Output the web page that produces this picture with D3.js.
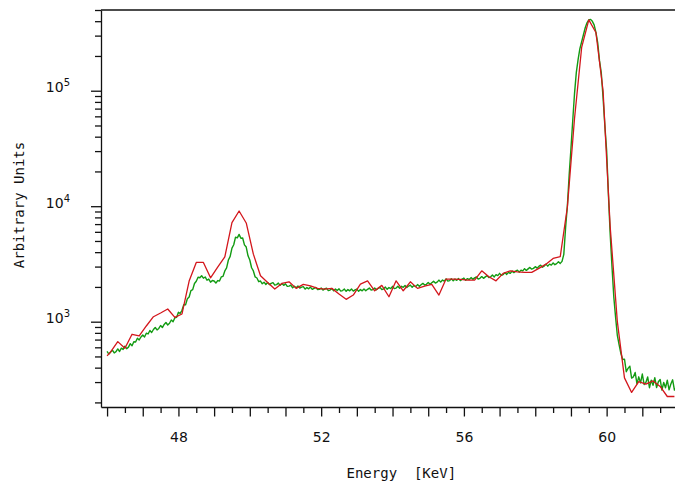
<!DOCTYPE html>
<html>
<head>
<meta charset="utf-8">
<script src="https://cdn.jsdelivr.net/npm/d3@7"></script>
<style>
  html, body { margin: 0; padding: 0; background: #fff; }
  svg { display: block; }
</style>
</head>
<body>
<svg id="chart" width="675" height="487"></svg>
<script>
// Coarse spectrum (red): energy in keV and counts
const redEnergy = [46.0,
  46.1, 46.3, 46.5, 46.7, 46.9, 47.1, 47.3, 47.5, 47.7, 47.9,
  48.1, 48.3, 48.5, 48.7, 48.9, 49.1, 49.3, 49.5, 49.7, 49.9,
  50.1, 50.3, 50.5, 50.7, 50.9, 51.1, 51.3, 51.5, 51.7, 51.9,
  52.1, 52.3, 52.5, 52.7, 52.9, 53.1, 53.3, 53.5, 53.7, 53.9,
  54.1, 54.3, 54.5, 54.7, 54.9, 55.1, 55.3, 55.5, 55.7, 55.9,
  56.1, 56.3, 56.5, 56.7, 56.9, 57.1, 57.3, 57.5, 57.7, 57.9,
  58.1, 58.3, 58.5, 58.7, 58.9, 59.1, 59.3, 59.5, 59.7, 59.9,
  60.1, 60.3, 60.5, 60.7, 60.9, 61.1, 61.3, 61.5, 61.7, 61.9];
const redCounts = [506,
  547, 672, 589, 778, 752, 918, 1104, 1189, 1287, 1091,
  1166, 2246, 3258, 3258, 2399, 2968, 3641, 7220, 9090, 7160,
  3843, 2496, 2185, 1916, 2146, 2215, 1943, 2104, 2046, 1943,
  1916, 1943, 1735, 1561, 1701, 2116, 2259, 1852, 2062, 1644,
  2259, 1852, 2215, 1943, 2034, 2104, 1701, 2338, 2338, 2324,
  2292, 2292, 2757, 2447, 2259, 2618, 2757, 2703, 2671, 2671,
  2892, 3150, 3528, 3656, 9840, 57400, 237000, 411000, 319000, 100000,
  6610, 1000, 326, 244, 303, 288, 307, 275, 225, 225];

// Fine spectrum (green): 0.05 keV channels from 46.00 to 62.00 keV
const greenFirst = 46.0;
const greenChannel = 0.05;
const greenCounts = [
  553, 524, 547, 567, 536, 550, 581, 552, 590, 575,
  614, 584, 602, 645, 620, 671, 667, 719, 695, 737,
  767, 737, 795, 783, 839, 806, 856, 891, 848, 874,
  927, 890, 946, 984, 936, 969, 1034, 999, 1082, 1092,
  1207, 1181, 1256, 1401, 1399, 1578, 1634, 1859, 1895, 2141,
  2240, 2430, 2400, 2500, 2380, 2440, 2285, 2340, 2200, 2275,
  2250, 2160, 2270, 2250, 2440, 2470, 2750, 2920, 3420, 3680,
  4340, 4640, 5400, 5320, 5700, 5280, 5300, 4630, 4430, 3720,
  3420, 2930, 2750, 2440, 2390, 2220, 2250, 2130, 2200, 2100,
  2181, 2095, 2149, 2180, 2074, 2095, 2158, 2063, 2137, 2064,
  2127, 2023, 2033, 2075, 1964, 2024, 1964, 2034, 1954, 1994,
  2013, 1915, 1974, 1925, 1993, 1905, 1945, 1983, 1896, 1906,
  1954, 1878, 1926, 1954, 1859, 1878, 1935, 1850, 1916, 1859,
  1925, 1840, 1859, 1916, 1831, 1897, 1850, 1916, 1840, 1887,
  1916, 1831, 1897, 1850, 1916, 1850, 1906, 1954, 1878, 1897,
  1954, 1887, 1945, 1983, 1896, 1925, 1993, 1905, 1974, 1935,
  2023, 1935, 1954, 2024, 1944, 2024, 1984, 2054, 1974, 2034,
  2075, 1983, 2054, 2013, 2095, 2023, 2085, 2147, 2074, 2106,
  2181, 2105, 2170, 2235, 2158, 2202, 2291, 2202, 2292, 2246,
  2349, 2246, 2269, 2349, 2257, 2338, 2280, 2361, 2269, 2338,
  2385, 2280, 2361, 2315, 2408, 2326, 2397, 2445, 2337, 2372,
  2456, 2372, 2444, 2505, 2408, 2444, 2531, 2443, 2556, 2506,
  2621, 2519, 2556, 2660, 2568, 2674, 2621, 2742, 2660, 2742,
  2796, 2686, 2796, 2754, 2880, 2781, 2866, 2952, 2851, 2895,
  2997, 2909, 3012, 3087, 2966, 3027, 3150, 3026, 3150, 3088,
  3229, 3116, 3181, 3310, 3196, 3330, 3830, 6500, 10100, 18600,
  31600, 55200, 94400, 143300, 185600, 231000, 265500, 305100, 351000, 387000,
  411000, 415000, 399000, 372000, 320000, 260000, 182000, 143000, 87100, 49950,
  30400, 12600, 5700, 3000, 1650, 1100, 760, 630, 530, 470,
  474, 369, 394, 412, 325, 333, 363, 290, 333, 295,
  352, 286, 298, 332, 268, 312, 281, 327, 269, 302,
  316, 256, 298, 268, 312, 257, 289, 314, 256, 269,
  290];

// Axis ranges and ticks
const energyRange = [45.83, 62.0];
const countRange = [182.5, 5e5];
const xMajorTicks = [46, 47, 48, 49, 50, 51, 52, 53, 54, 55, 56, 57, 58, 59, 60, 61];
const xMinorTicks = [46.5, 47.5, 48.5, 49.5, 50.5, 51.5, 52.5, 53.5, 54.5, 55.5, 56.5, 57.5, 58.5, 59.5, 60.5, 61.5];
const xLabelTicks = [48, 52, 56, 60];
const yMajorTicks = [1e3, 1e4, 1e5];
const yMinorTicks = [200, 300, 400, 500, 600, 700, 800, 900,
  2000, 3000, 4000, 5000, 6000, 7000, 8000, 9000,
  20000, 30000, 40000, 50000, 60000, 70000, 80000, 90000,
  200000, 300000, 400000, 500000];

const plot = { left: 101, right: 678, top: 10, bottom: 407 };
const ink = "#111";

const svg = d3.select("#chart");

const x = d3.scaleLinear().domain(energyRange).range([plot.left, plot.right]);
const y = d3.scaleLog().domain(countRange).range([plot.bottom, plot.top]);

// Spectra
const greenData = greenCounts.map((c, i) => [greenFirst + i * greenChannel, c]);
const redData = redEnergy.map((e, i) => [e, redCounts[i]]);

const line = d3.line().x(d => x(d[0])).y(d => y(d[1]));

svg.append("path")
  .datum(greenData)
  .attr("d", line)
  .attr("fill", "none")
  .attr("stroke", "#129b12")
  .attr("stroke-width", 1.4)
  .attr("stroke-linejoin", "round");

svg.append("path")
  .datum(redData)
  .attr("d", line)
  .attr("fill", "none")
  .attr("stroke", "#d3161c")
  .attr("stroke-width", 1.3)
  .attr("stroke-linejoin", "round");

// Top frame line
svg.append("line")
  .attr("x1", plot.left).attr("x2", plot.right)
  .attr("y1", plot.top).attr("y2", plot.top)
  .attr("stroke", ink).attr("stroke-width", 1.3);

function styleAxis(g) {
  g.selectAll("path, line").attr("stroke", ink).attr("stroke-width", 1.3);
  g.selectAll("text").attr("fill", ink);
}

// Bottom axis: integer ticks, half-keV minor ticks
const xMajorAxis = d3.axisBottom(x)
  .tickValues(xMajorTicks)
  .tickSize(9.5)
  .tickSizeOuter(0)
  .tickFormat(d => xLabelTicks.includes(d) ? String(d) : "");
const xAxisG = svg.append("g")
  .attr("transform", `translate(0,${plot.bottom})`)
  .call(xMajorAxis);
xAxisG.selectAll(".tick text")
  .attr("y", 35).attr("dy", null)
  .attr("font-family", "DejaVu Sans, sans-serif")
  .attr("font-size", 14);
styleAxis(xAxisG);

const xMinorG = svg.append("g")
  .attr("transform", `translate(0,${plot.bottom})`)
  .call(d3.axisBottom(x).tickValues(xMinorTicks).tickSize(6).tickFormat(""));
xMinorG.select(".domain").remove();
styleAxis(xMinorG);

// Left axis: decades with powers-of-ten labels, minor ticks in between
const yAxisG = svg.append("g")
  .attr("transform", `translate(${plot.left},0)`)
  .call(d3.axisLeft(y).tickValues(yMajorTicks).tickSize(10).tickSizeOuter(0));
yAxisG.selectAll(".tick text").each(function(d) {
  const t = d3.select(this)
    .text(null)
    .attr("x", -31).attr("y", 1).attr("dy", null)
    .attr("text-anchor", "end")
    .attr("font-family", "DejaVu Sans, sans-serif")
    .attr("font-size", 14);
  t.append("tspan").text("10");
  t.append("tspan").attr("font-size", 10).attr("dy", -6).text(Math.round(Math.log10(d)));
});
styleAxis(yAxisG);

const yMinorG = svg.append("g")
  .attr("transform", `translate(${plot.left},0)`)
  .call(d3.axisLeft(y).tickValues(yMinorTicks).tickSize(6).tickFormat(""));
yMinorG.select(".domain").remove();
styleAxis(yMinorG);

// Axis titles
svg.append("text")
  .attr("x", 346.5).attr("y", 478)
  .attr("font-family", "DejaVu Sans Mono, monospace")
  .attr("font-size", 14)
  .attr("fill", ink)
  .style("white-space", "pre")
  .text("Energy  [KeV]");

svg.append("text")
  .attr("transform", "translate(23.5,205) rotate(-90)")
  .attr("text-anchor", "middle")
  .attr("font-family", "DejaVu Sans Mono, monospace")
  .attr("font-size", 14)
  .attr("fill", ink)
  .text("Arbitrary Units");
</script>
</body>
</html>
